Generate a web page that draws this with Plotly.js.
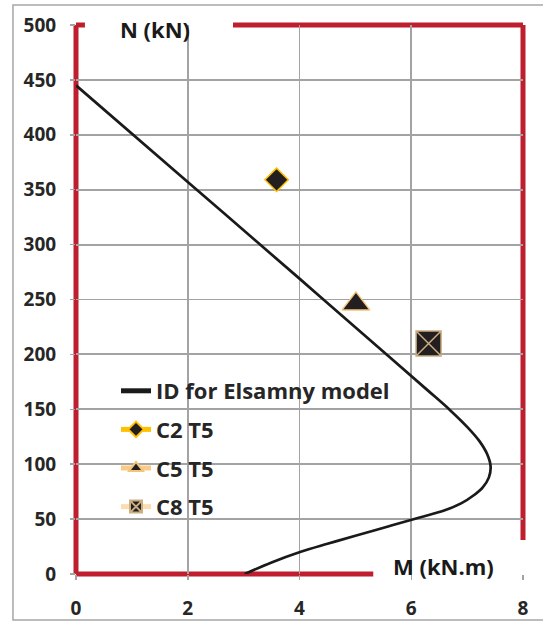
<!DOCTYPE html>
<html>
<head>
<meta charset="utf-8">
<script src="https://cdn.plot.ly/plotly-3.0.1.min.js"></script>
<style>html,body{margin:0;padding:0;background:#fff;}#chart{width:543px;height:623px;}</style>
</head>
<body>
<div id="chart"></div>
<script>
// Interaction diagram: ID for Elsamny model (M in kN.m, N in kN)
const curveM = [0, 2, 4, 5.6, 6.3, 6.7, 7.0, 7.22, 7.36, 7.42, 7.39, 7.28, 7.1, 6.9, 6.6, 6.15, 5.6, 5.0, 4.5, 4.01, 3.5, 3.02];
const curveN = [445, 357, 269, 198, 167, 149, 134, 121, 109, 98, 88, 79, 71, 64.5, 58, 51.5, 43.5, 34.8, 27.5, 20, 10.5, 0];

// Test points
const c2M = [3.59], c2N = [359];
const c5M = [5.01], c5N = [246];
const c8M = [6.31], c8N = [210];

const xTicks = [0, 2, 4, 6, 8];
const yTicks = [0, 50, 100, 150, 200, 250, 300, 350, 400, 450, 500];

const FONT = '"Open Sans", Lato, sans-serif';
const RED = '#BE1E2D';
const GRID = '#A3A3A3';
const XMAX = 8, YMAX = 500;
const px = v => v / XMAX, py = v => v / YMAX;

const traces = [
  {x: curveM, y: curveN, mode: 'lines', name: 'ID for Elsamny model', legendgroup: 'a',
   line: {color: '#1A1A1A', width: 2.7, shape: 'spline', smoothing: 1}},
  {x: c2M, y: c2N, mode: 'lines+markers', name: 'C2 T5', legendgroup: 'b',
   line: {color: '#FFC000', width: 2.5},
   marker: {symbol: 'diamond', size: 18, color: '#231F20', line: {color: '#FFC000', width: 1.5}}},
  {x: c5M, y: c5N, mode: 'lines+markers', name: 'C5 T5', legendgroup: 'c',
   line: {color: '#F9CB86', width: 2.5},
   marker: {symbol: 'triangle-up', size: 24, color: '#231F20', line: {color: '#F3C47A', width: 1.5}}},
  {x: c8M, y: c8N, mode: 'lines+markers', name: 'C8 T5', legendgroup: 'd',
   line: {color: '#FCDDB3', width: 2.5},
   marker: {symbol: 'square-x', size: 25, color: '#231F20', line: {color: '#C9AE82', width: 1.5}}}
];

function redLine(x0, y0, x1, y1) {
  return {type: 'line', xref: 'paper', yref: 'paper', x0: px(x0), x1: px(x1), y0: py(y0), y1: py(y1),
          line: {color: RED, width: 5}, layer: 'between'};
}
function whiteBox(x0, y0, x1, y1) {
  return {type: 'rect', xref: 'paper', yref: 'paper', x0: px(x0), x1: px(x1), y0: py(y0), y1: py(y1),
          fillcolor: '#ffffff', line: {width: 0}, layer: 'between'};
}

const shapes = [
  {type: 'rect', xref: 'paper', yref: 'paper', x0: -0.141, x1: 1.06, y0: -0.0838, y1: 1.0364,
   line: {color: '#A6A6A6', width: 1.5}, layer: 'below'},
  whiteBox(0.16, 471, 2.81, 505),
  whiteBox(0.21, 46.5, 5.85, 187),
  whiteBox(5.35, -4, 8.2, 31),
  redLine(0, 0, 0, 500),
  redLine(0, 500, 0.16, 500),
  redLine(0, 0, 5.32, 0),
  redLine(2.81, 500, 8, 500),
  redLine(8, 31, 8, 500)
];

const layout = {
  width: 543, height: 623,
  margin: {l: 76, r: 20, t: 25, b: 49},
  paper_bgcolor: '#fff', plot_bgcolor: '#fff',
  showlegend: true,
  font: {family: FONT, color: '#262626'},
  xaxis: {range: [0, XMAX], tickvals: xTicks, ticktext: xTicks.map(String),
    showgrid: true, gridcolor: GRID, gridwidth: 1.8, zeroline: false, showline: false,
    ticks: 'outside', ticklen: 5, tickcolor: GRID, tickwidth: 1.5, ticklabelstandoff: 12,
    tickfont: {family: FONT, size: 19, weight: 700, color: '#262626'}, fixedrange: true},
  yaxis: {range: [0, YMAX], tickvals: yTicks, ticktext: yTicks.map(String),
    showgrid: true, gridcolor: GRID, gridwidth: 1.8, zeroline: false, showline: false,
    ticks: 'outside', ticklen: 5, tickcolor: GRID, tickwidth: 1.5, ticklabelstandoff: 10,
    tickfont: {family: FONT, size: 19, weight: 700, color: '#262626'}, fixedrange: true},
  legend: {x: 0.0895, y: 0.3716, xanchor: 'left', yanchor: 'top', bgcolor: 'rgba(0,0,0,0)',
    borderwidth: 0, traceorder: 'grouped', tracegroupgap: 7, itemsizing: 'constant',
    font: {family: FONT, size: 22, weight: 700, color: '#262626'}},
  shapes: shapes,
  annotations: [
    {x: 1.41, y: 496.4, xref: 'x', yref: 'y', text: 'N (kN)', showarrow: false,
     font: {family: FONT, size: 22, weight: 700, color: '#1A1A1A'}},
    {x: 6.58, y: 7.3, xref: 'x', yref: 'y', text: 'M (kN.m)', showarrow: false,
     font: {family: FONT, size: 22, weight: 700, color: '#1A1A1A'}}
  ]
};

Plotly.newPlot('chart', traces, layout, {displayModeBar: false, staticPlot: true});
</script>
</body>
</html>
